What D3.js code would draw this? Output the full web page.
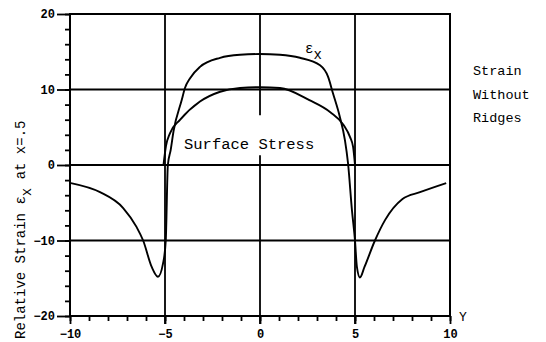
<!DOCTYPE html>
<html lang="en">
<head>
<meta charset="UTF-8">
<title>Relative Strain</title>
<script src="https://d3js.org/d3.v7.min.js"></script>
<style>
  body { margin: 0; background: #fff; }
  svg text { font-family: "Liberation Mono", "DejaVu Sans Mono", monospace; fill: #000; }
  .tick-label { font-size: 12px; font-weight: bold; }
</style>
</head>
<body>
<script>
// strain eps_x along Y (the outer curve, runs -10..10)
const strainY   = [-9.95, -8.42, -7.2, -6.5, -6.15, -5.7, -5.37, -5.1, -4.96, -4.85, -4.7, -4.55, -4.12, -3.95, -3.68, -3.16, -2.1, -1.05, 0, 1.05, 2.1, 3.16, 3.58, 3.84, 4.2, 4.47, 4.63, 4.84, 5.0, 5.1, 5.26, 5.5, 6.05, 6.58, 7.5, 8.42, 9.8];
const strainVal = [-2.4, -3.6, -5.7, -8.2, -10, -13.5, -14.8, -13, -10, 0, 2, 4.5, 8.6, 10.2, 11.5, 13.0, 14.2, 14.6, 14.7, 14.6, 14.2, 13.2, 11.7, 9.5, 6.4, 3.3, 0.3, -6, -10, -13.5, -14.9, -13.5, -10, -7.3, -4.5, -3.6, -2.4];

// surface stress curve (inside the ridge, -5..5)
const stressY   = [-5.08, -4.95, -4.74, -4.2, -3.16, -2.1, -1.05, 0, 1.05, 2.6, 3.7, 4.4, 4.74, 4.9, 5.0];
const stressVal = [0, 2.5, 4.2, 6.0, 8.4, 9.7, 10.2, 10.3, 10.2, 8.6, 7.0, 5.3, 3.7, 2.4, 0];

const xLabels = [-10, -5, 0, 5, 10];
const yLabels = [-20, -10, 0, 10, 20];
const gridX = [-5, 5];
const gridY = [-10, 0, 10];
const centreLineParts = [[20, 6.6], [1.3, -20]];
const sideNote = ["Strain", "Without", "Ridges"];

const width = 546, height = 342;
const svg = d3.select("body").append("svg")
    .attr("width", width)
    .attr("height", height);

const x = d3.scaleLinear().domain([-10, 10]).range([70, 450]);
const y = d3.scaleLinear().domain([-20, 20]).range([316, 14]);

// grid
svg.selectAll("line.gx").data(gridX).enter().append("line")
    .attr("x1", d => x(d)).attr("x2", d => x(d))
    .attr("y1", y(20)).attr("y2", y(-20) + 8)
    .attr("stroke", "#000").attr("stroke-width", 1.8);

svg.selectAll("line.gc").data(centreLineParts).enter().append("line")
    .attr("x1", x(0)).attr("x2", x(0))
    .attr("y1", d => y(d[0])).attr("y2", (d, i) => y(d[1]) + (i ? 8 : 0))
    .attr("stroke", "#000").attr("stroke-width", 1.8);

svg.selectAll("line.gy").data(gridY).enter().append("line")
    .attr("x1", x(-10)).attr("x2", x(10))
    .attr("y1", d => y(d)).attr("y2", d => y(d))
    .attr("stroke", "#000").attr("stroke-width", 1.8);

// axes
const yAxisMinor = d3.axisLeft(y).tickValues(d3.range(-20, 20.01, 2)).tickSize(5).tickFormat("");
const yAxisMajor = d3.axisLeft(y).tickValues(yLabels).tickSize(13).tickPadding(2).tickFormat(d3.format("d"));
const xAxisMinor = d3.axisBottom(x).tickValues(d3.range(-10, 10.01, 1)).tickSize(5).tickFormat("");
const xAxisMajor = d3.axisBottom(x).tickValues(xLabels).tickSize(8).tickPadding(5).tickFormat(d3.format("d"));

function styleAxis(g) {
  g.select(".domain").remove();
  g.selectAll("line").attr("stroke", "#000").attr("stroke-width", 1.8);
  g.selectAll("text").attr("class", "tick-label").attr("fill", "#000");
}
svg.append("g").attr("transform", `translate(${x(-10)},0)`).call(yAxisMinor).call(styleAxis);
svg.append("g").attr("transform", `translate(${x(-10)},0)`).call(yAxisMajor).call(styleAxis);
svg.append("g").attr("transform", `translate(0,${y(-20)})`).call(xAxisMinor).call(styleAxis);
svg.append("g").attr("transform", `translate(0,${y(-20)})`).call(xAxisMajor).call(styleAxis);

// frame
svg.append("rect")
    .attr("x", x(-10)).attr("y", y(20))
    .attr("width", x(10) - x(-10)).attr("height", y(-20) - y(20))
    .attr("fill", "none").attr("stroke", "#000").attr("stroke-width", 2);

// curves
const line = d3.line().x(d => x(d[0])).y(d => y(d[1])).curve(d3.curveMonotoneX);
svg.append("path")
    .datum(d3.zip(strainY, strainVal))
    .attr("d", line)
    .attr("fill", "none").attr("stroke", "#000").attr("stroke-width", 1.9);
svg.append("path")
    .datum(d3.zip(stressY, stressVal))
    .attr("d", line)
    .attr("fill", "none").attr("stroke", "#000").attr("stroke-width", 1.9);

// labels in plot
svg.append("text").attr("x", 184).attr("y", 149)
    .style("font-size", "15.5px").text("Surface Stress");

const epsLabel = svg.append("text").attr("x", 305).attr("y", 53).style("font-size", "14px");
epsLabel.append("tspan").text("ε");
epsLabel.append("tspan").attr("dy", 6).style("font-size", "14px").text("x");

svg.selectAll("text.note").data(sideNote).enter().append("text")
    .attr("x", 473).attr("y", (d, i) => 75 + i * 23.5)
    .style("font-size", "13.5px").text(d => d);

svg.append("text").attr("x", 459).attr("y", 321)
    .style("font-size", "13px").text("Y");

// y axis title
const yTitle = svg.append("text")
    .attr("transform", "translate(25,339) rotate(-90)")
    .style("font-size", "14px");
yTitle.append("tspan").text("Relative Strain ε");
yTitle.append("tspan").attr("dy", 6).text("x");
yTitle.append("tspan").attr("dy", -6).text(" at x=.5");
</script>
</body>
</html>
